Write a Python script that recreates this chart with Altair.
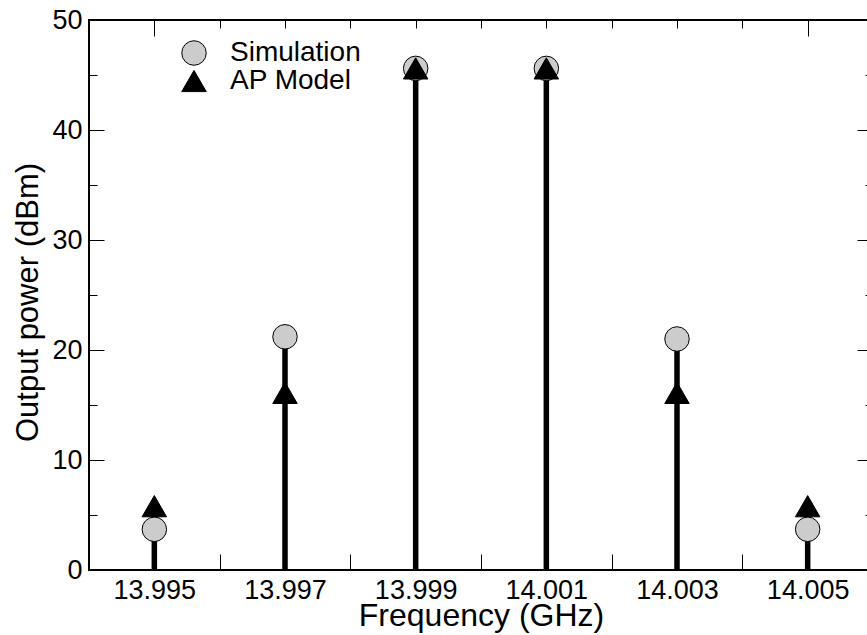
import altair as alt
import pandas as pd

# ---- data ----
freq = [13.995, 13.997, 13.999, 14.001, 14.003, 14.005]
sim_dbm = [3.7, 21.2, 45.6, 45.6, 21.0, 3.7]
ap_dbm = [5.8, 16.1, 45.6, 45.6, 16.1, 5.8]
series_names = ["Simulation", "AP Model"]

x_label_vals = [13.995, 13.997, 13.999, 14.001, 14.003, 14.005]
x_bottom_ticks = [13.996, 13.998, 14.000, 14.002, 14.004]
x_top_major = [13.995, 14.005]
x_top_minor = [13.996, 13.997, 13.998, 13.999, 14.000, 14.001, 14.002, 14.003, 14.004]
y_major = [0, 10, 20, 30, 40, 50]
y_minor = [5, 15, 25, 35, 45]

x_domain = [13.994, 14.006]
y_domain = [0, 50]

W, H = 784, 550
FONT = "Liberation Sans"

stems = pd.DataFrame({"freq": freq, "sim": sim_dbm, "ap": ap_dbm})
stems["top"] = stems[["sim", "ap"]].max(axis=1)
stems["base"] = 0.0

pts = pd.DataFrame({
    "freq": freq + freq,
    "dbm": sim_dbm + ap_dbm,
    "series": [series_names[0]] * len(freq) + [series_names[1]] * len(freq),
})

xs = alt.Scale(domain=x_domain, nice=False, zero=False)
ys = alt.Scale(domain=y_domain, nice=False, zero=False)


def tick_axis(orient, values, size, offset):
    return alt.Axis(orient=orient, values=values, tickSize=size, offset=offset,
                    labels=False, domain=False, grid=False, title=None,
                    tickColor="black", tickWidth=1)


stem_layer = alt.Chart(stems).mark_rule(color="black", strokeWidth=5.5).encode(
    x=alt.X("freq:Q", scale=xs, axis=alt.Axis(
        orient="bottom", values=x_label_vals, format=".3f", ticks=False, domain=False,
        grid=False, labelFontSize=27, labelPadding=7, labelColor="black", labelFont=FONT,
        title="Frequency (GHz)", titleFontSize=32, titleFontWeight="normal",
        titleFont=FONT, titleColor="black", titleBaseline="alphabetic", titleY=55)),
    y=alt.Y("base:Q", scale=ys, axis=alt.Axis(
        orient="left", values=y_major, format="d", ticks=False, domain=False,
        grid=False, labelFontSize=27, labelPadding=7, labelColor="black", labelFont=FONT,
        title="Output power (dBm)", titleFontSize=31, titleFontWeight="normal",
        titleFont=FONT, titleColor="black", titleAngle=270, titleBaseline="alphabetic",
        titleAlign="center", titleX=-52, titleY=282)),
    y2="top:Q",
)

legend = alt.Legend(orient="none", legendX=91, legendY=19, title=None,
                    labelFontSize=28, labelFont=FONT, labelColor="black",
                    symbolSize=600, symbolStrokeWidth=1, symbolStrokeColor="black",
                    labelOffset=22, rowPadding=0, padding=0, clipHeight=28)

point_layer = alt.Chart(pts).mark_point(filled=True, stroke="black", strokeWidth=1,
                                        opacity=1, size=600).encode(
    x=alt.X("freq:Q", scale=xs, axis=None),
    y=alt.Y("dbm:Q", scale=ys, axis=None),
    shape=alt.Shape("series:N", scale=alt.Scale(domain=series_names, range=["circle", "triangle-up"]), legend=legend),
    color=alt.Color("series:N", scale=alt.Scale(domain=series_names, range=["#cccccc", "black"]), legend=legend),
)


def x_tick_layer(orient, values, size, offset):
    return alt.Chart(pts).mark_point(opacity=0).encode(
        x=alt.X("freq:Q", scale=xs, axis=tick_axis(orient, values, size, offset)),
        y=alt.Y("dbm:Q", scale=ys, axis=None),
    )


def y_tick_layer(orient, values, size, offset):
    return alt.Chart(pts).mark_point(opacity=0).encode(
        x=alt.X("freq:Q", scale=xs, axis=None),
        y=alt.Y("dbm:Q", scale=ys, axis=tick_axis(orient, values, size, offset)),
    )


layers = [
    stem_layer,
    point_layer,
    x_tick_layer("top", x_bottom_ticks, 16, -H),      # inward ticks on bottom edge
    x_tick_layer("bottom", x_top_major, 16, -H),      # inward ticks on top edge
    x_tick_layer("bottom", x_top_minor, 8, -H),
    y_tick_layer("right", y_major, 15, -W),           # inward ticks on left edge
    y_tick_layer("right", y_minor, 8, -W),
    y_tick_layer("left", y_major, 16, -W),            # inward ticks on right edge
    y_tick_layer("left", y_minor, 8, -W),
]

chart = alt.layer(*layers).resolve_axis(x="independent", y="independent").properties(
    width=W, height=H,
    autosize=alt.AutoSizeParams(type="none"),
    padding={"left": 89, "top": 20, "right": -6, "bottom": 65},
    background="white",
).configure_view(stroke="black", strokeWidth=2)

chart.save("out.html", embed_options={"renderer": "svg", "actions": False})
